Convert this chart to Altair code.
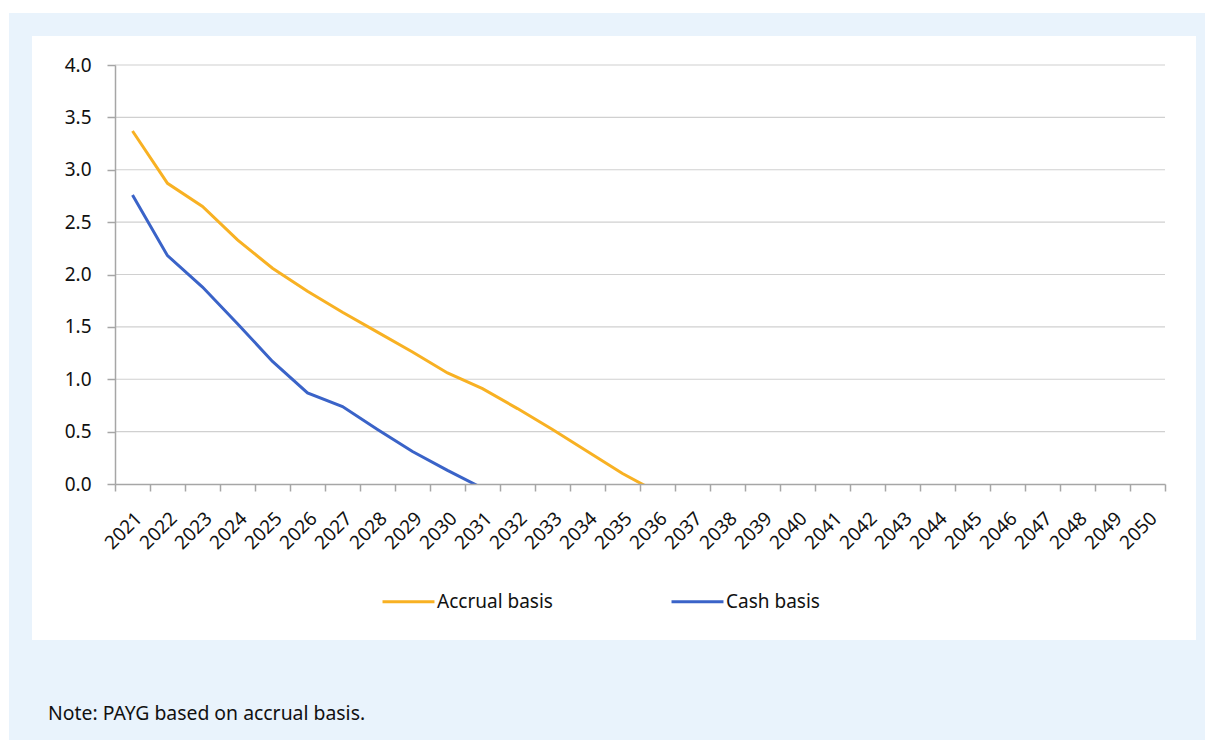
import altair as alt
import pandas as pd

# Years shown on the category axis
years = [str(y) for y in range(2021, 2051)]

# Fund ratio by year (values below zero fall outside the 0-4 axis and are clipped)
accrual_years = [str(y) for y in range(2021, 2037)]
accrual_values = [3.37, 2.87, 2.65, 2.33, 2.06, 1.84, 1.64, 1.45, 1.26, 1.06,
                  0.91, 0.72, 0.52, 0.31, 0.10, -0.08]

cash_years = [str(y) for y in range(2021, 2032)]
cash_values = [2.76, 2.18, 1.88, 1.53, 1.17, 0.87, 0.74, 0.52, 0.31, 0.13, -0.04]

y_ticks = [0, 0.5, 1, 1.5, 2, 2.5, 3, 3.5, 4]

series_names = ["Accrual basis", "Cash basis"]
series_colors = ["#F8B123", "#3A63C8"]

note_text = "Note: PAYG based on accrual basis."

df = pd.concat([
    pd.DataFrame({"year": accrual_years, "value": accrual_values, "series": series_names[0]}),
    pd.DataFrame({"year": cash_years, "value": cash_values, "series": series_names[1]}),
], ignore_index=True)

FONT = "Noto Sans"
FS = 19
TXT = "#111111"
AXIS_GREY = "#A6A6A6"
W, H = 1050, 419
PAD_L, PAD_T = 115, 65

# Page background and white card behind the chart
outer = alt.Chart(pd.DataFrame({"k": [0]})).mark_rect(color="#E9F3FC").encode(
    x=alt.value(9 - PAD_L), x2=alt.value(1205 - PAD_L),
    y=alt.value(13 - PAD_T), y2=alt.value(740 - PAD_T),
)
card = alt.Chart(pd.DataFrame({"k": [0]})).mark_rect(color="white").encode(
    x=alt.value(32 - PAD_L), x2=alt.value(1196 - PAD_L),
    y=alt.value(36 - PAD_T), y2=alt.value(640 - PAD_T),
)

y_scale = alt.Scale(domain=[0, 4], nice=False, zero=True)
y_axis = alt.Axis(title=None, values=y_ticks, format=".1f", grid=False,
                  tickSize=8, labelPadding=16, domain=True, domainColor=AXIS_GREY,
                  domainWidth=1.5, tickColor=AXIS_GREY, tickWidth=1.5, zindex=1,
                  labelFont=FONT, labelFontSize=FS, labelColor=TXT)

# Horizontal gridlines at each labelled value
grid = alt.Chart(pd.DataFrame({"v": y_ticks[1:]})).mark_rule(
    color="#D0D0D0", strokeWidth=1.2
).encode(y=alt.Y("v:Q", scale=y_scale, axis=y_axis))

lines = alt.Chart(df).mark_line(strokeWidth=3, clip=True).encode(
    x=alt.X("year:O", scale=alt.Scale(type="band", domain=years, paddingInner=0, paddingOuter=0),
            axis=alt.Axis(title=None, labelAngle=-45, labelAlign="right", labelBaseline="middle",
                          tickBand="extent", tickSize=7, labelPadding=24, labelOffset=6,
                          domainColor=AXIS_GREY, tickColor=AXIS_GREY, domainWidth=1.5,
                          tickWidth=1.5, zindex=1,
                          labelFont=FONT, labelFontSize=FS, labelColor=TXT)),
    y=alt.Y("value:Q", scale=y_scale, axis=y_axis),
    color=alt.Color("series:N", scale=alt.Scale(domain=series_names, range=series_colors),
                    legend=alt.Legend(title=None, orient="none", direction="horizontal",
                                      legendX=266, legendY=509, symbolType="stroke",
                                      symbolSize=2700, symbolStrokeWidth=3, labelOffset=1,
                                      columnPadding=112, labelFont=FONT, labelFontSize=FS,
                                      labelColor=TXT)),
)

note = alt.Chart(pd.DataFrame({"t": [note_text]})).mark_text(
    align="left", baseline="alphabetic", font=FONT, fontSize=19.4, color=TXT
).encode(text="t:N", x=alt.value(48 - PAD_L), y=alt.value(720 - PAD_T))

chart = alt.layer(outer, card, grid, lines, note).properties(
    width=W, height=H,
    autosize=alt.AutoSizeParams(type="none"),
    padding={"left": PAD_L, "top": PAD_T, "right": 1205 - PAD_L - W, "bottom": 740 - PAD_T - H},
    background="white",
).configure_view(stroke=None)

chart.save("out.html", embed_options={"renderer": "svg", "actions": False})
